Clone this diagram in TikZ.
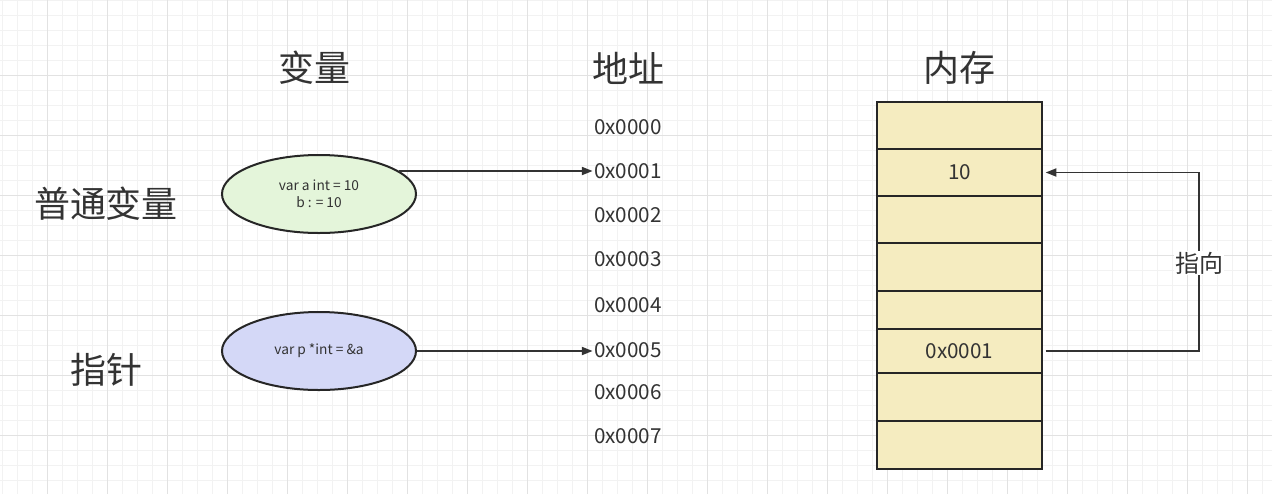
\documentclass[tikz,border=0pt]{standalone}
\usepackage{fontspec}
\setmainfont{Noto Sans CJK SC}
\usetikzlibrary{arrows.meta,shapes.geometric}
\newdimen\pxu \pxu=0.75pt
\definecolor{ink}{RGB}{51,51,51}
\definecolor{gridlo}{RGB}{242,242,242}
\definecolor{gridhi}{RGB}{226,226,226}
\definecolor{varfill}{RGB}{228,245,218}
\definecolor{ptrfill}{RGB}{212,216,247}
\definecolor{memfill}{RGB}{245,236,192}
\begin{document}
\begin{tikzpicture}[x=0.75pt,y=-0.75pt,every node/.style={text=ink},>={Triangle[length=8pt,width=6pt]},
  headtxt/.style={font=\fontsize{27}{32}\selectfont},
  sidetxt/.style={font=\fontsize{27}{32}\selectfont},
  addr/.style={font=\fontsize{15.5}{18}\selectfont,inner sep=1pt},
  bubble/.style={ellipse,draw=black!85,line width=1.5pt,minimum width=194\pxu,minimum height=78\pxu,inner sep=0pt,font=\fontsize{10.3}{12.5}\selectfont,align=center},
  cell/.style={rectangle,draw=black!85,fill=memfill,line width=1.5pt,minimum width=165\pxu,inner sep=0pt,font=\fontsize{15.5}{18}\selectfont},
  link/.style={->,draw=black!80,line width=1.3pt}]
\useasboundingbox (0,0) rectangle (1272,494);
\fill[white] (0,0) rectangle (1272,494);
% grid
\foreach \gx in {2,17,...,1271} \draw[gridlo] (\gx,0) -- (\gx,494);
\foreach \gy in {0,15,...,494} \draw[gridlo] (0,\gy) -- (1272,\gy);
\foreach \gx in {47,107,...,1271} \draw[gridhi] (\gx,0) -- (\gx,494);
\foreach \gy in {75,135,...,435} \draw[gridhi] (0,\gy) -- (1272,\gy);

\node[headtxt] (hvar) at (314,68) {变量};
\node[headtxt] (haddr) at (628,68) {地址};
\node[headtxt] (hmem) at (959,68) {内存};
\node[sidetxt] (lnorm) at (106,204) {普通变量};
\node[sidetxt] (lptr) at (106,370) {指针};

\node[bubble,fill=varfill] (va) at (319,194) {var a int = 10\\b : = 10};
\node[bubble,fill=ptrfill] (vp) at (319,351) {var p *int = \&a};

\foreach \n/\y in {0/127,1/171,2/215,3/259,4/305,5/350,6/392,7/436}
 \node[addr] (a\n) at (628,\y) {0x000\n};

\foreach \n/\t/\b/\txt in {m0/102/149/{},m1/149/196/10,m2/196/243/{},m3/243/291/{},m4/291/329/{},m5/329/373/0x0001,m6/373/421/{},m7/421/469/{}}
 \node[cell,minimum height={(\b-\t)*\pxu}] (\n) at (959.5,{(\t+\b)/2}) {\txt};

\draw[link] (va.16) -- (va.16 -| a1.west);
\draw[link] (vp.east) -- (vp.east -| a5.west);

\coordinate (turn) at (1199,263);
\draw[link] ([xshift=2pt]m5.east) -| (turn) |- ([xshift=2pt]m1.east);
\node[fill=white,inner sep=1pt,font=\fontsize{18}{21}\selectfont] (lpoint) at (turn) {指向};
\end{tikzpicture}
\end{document}
